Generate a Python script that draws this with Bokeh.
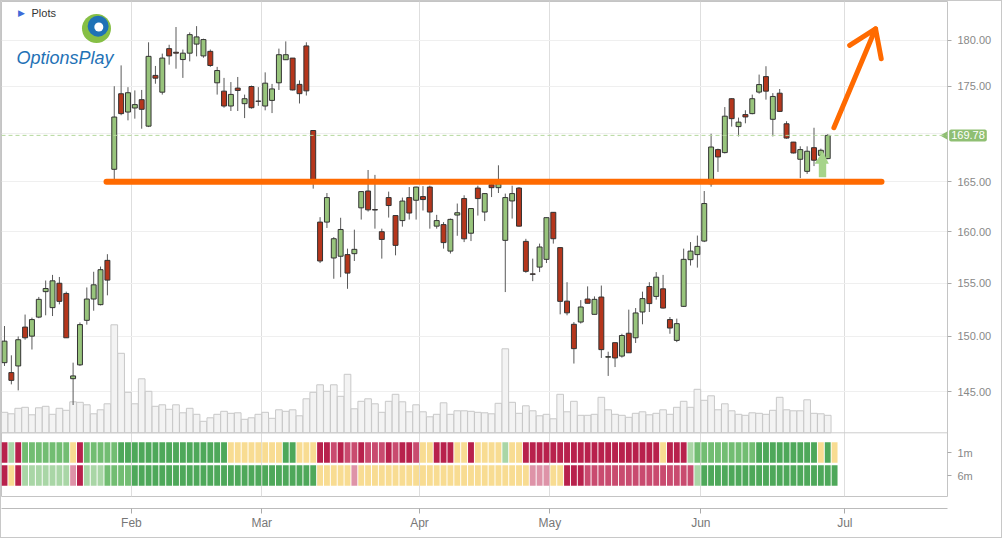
import math
import pandas as pd
from bokeh.plotting import figure
from bokeh.models import (Range1d, LinearScale, FixedTicker, PrintfTickFormatter,
                          Span, Label, ColumnDataSource)
from bokeh.embed import file_html
from bokeh.resources import INLINE

# ---------------- data ----------------
opens = [147.6, 146.7, 147.3, 150.87, 150.03, 151.8, 154.2, 152.69, 155.0, 154.03,
         146.15, 147.4, 151.5, 153.5, 152.97, 157.2, 166.27, 174.19, 172.24, 172.67,
         173.56, 170.75, 176.17, 174.36, 179.1, 178.7, 177.9, 178.6, 179.6, 178.3,
         178.8, 175.37, 174.47, 172.88, 174.8, 173.13, 174.97, 173.4, 172.88, 173.48,
         175.37, 177.88, 178.06, 175.2, 179.4, 170.29, 160.95, 160.95, 157.43, 157.6,
         157.76, 157.85, 162.37, 164.06, 162.2, 160.0, 163.4, 161.6, 161.1, 163.4,
         163.13, 163.5, 164.46, 160.55, 160.7, 158.1, 161.65, 163.3, 159.85, 164.36,
         161.95, 164.7, 164.4, 159.15, 163.06, 164.36, 159.05, 155.9, 156.55, 157.3,
         161.92, 158.44, 153.3, 151.13, 151.34, 153.5, 152.06, 153.69, 148.1, 149.43,
         148.2, 150.3, 149.88, 152.28, 154.69, 153.75, 154.47, 151.57, 149.64, 152.81,
         157.27, 157.76, 159.08, 164.8, 168.3, 167.99, 173.66, 170.7, 171.97, 172.07,
         174.37, 176.04, 171.47, 174.25, 171.0, 169.08, 167.3, 166.06, 168.5, 167.71,
         167.37]
highs = [150.97, 148.27, 150.0, 152.04, 151.75, 153.7, 155.26, 155.8, 155.6, 154.2,
         147.6, 151.3, 154.6, 156.1, 156.6, 157.8, 175.0, 177.26, 174.9, 174.55,
         174.6, 179.8, 177.2, 178.55, 179.53, 181.5, 179.0, 180.9, 181.6, 180.2,
         179.0, 177.1, 175.9, 175.45, 176.0, 174.1, 175.07, 174.9, 176.5, 175.25,
         179.1, 179.9, 178.06, 175.63, 179.8, 170.3, 161.44, 163.86, 159.47, 161.38,
         158.34, 160.2, 164.0, 166.2, 165.7, 160.3, 164.0, 161.6, 163.4, 164.46,
         164.5, 164.56, 164.6, 161.67, 160.95, 161.3, 162.8, 163.63, 162.3, 164.6,
         163.86, 165.2, 166.68, 163.8, 164.6, 164.46, 159.3, 157.37, 158.83, 161.4,
         161.95, 158.44, 155.1, 151.34, 153.4, 154.7, 153.75, 154.78, 148.6, 149.43,
         150.25, 152.5, 152.65, 154.2, 155.1, 156.07, 155.8, 151.81, 151.66, 158.34,
         158.98, 159.62, 164.06, 169.95, 168.4, 172.77, 173.7, 171.65, 172.43, 174.1,
         176.26, 177.17, 174.26, 174.7, 171.27, 169.1, 168.64, 168.64, 170.58, 168.4,
         169.9]
lows = [147.3, 145.64, 145.1, 149.7, 148.8, 151.7, 151.97, 151.9, 153.0, 149.88,
        143.8, 147.3, 151.1, 152.4, 152.9, 153.85, 164.96, 171.9, 171.36, 171.54,
        170.48, 170.65, 175.27, 174.1, 177.34, 176.9, 175.9, 177.7, 178.25, 178.1,
        177.1, 174.1, 172.7, 172.35, 172.35, 171.6, 172.6, 172.9, 172.42, 172.13,
        174.6, 177.88, 174.55, 173.15, 174.0, 164.3, 156.94, 160.37, 155.43, 155.58,
        154.47, 157.14, 161.2, 162.0, 160.3, 157.37, 161.4, 157.69, 160.5, 161.2,
        161.2, 162.1, 160.3, 160.3, 158.34, 157.86, 159.6, 158.98, 159.08, 161.6,
        161.05, 163.45, 163.86, 154.16, 161.3, 160.5, 156.0, 155.2, 156.07, 156.94,
        158.83, 152.06, 151.97, 147.52, 151.2, 153.1, 152.06, 148.03, 146.4, 147.2,
        148.06, 148.5, 149.4, 151.13, 152.28, 153.44, 152.6, 150.25, 149.48, 152.75,
        156.7, 156.5, 158.98, 164.5, 166.0, 167.9, 170.7, 169.67, 171.05, 172.0,
        174.2, 173.56, 169.67, 172.24, 169.43, 167.9, 165.37, 165.8, 166.6, 167.3,
        167.3]
closes = [149.57, 146.0, 149.7, 149.88, 151.57, 153.47, 154.5, 155.23, 153.28, 149.88,
          146.4, 151.1, 153.5, 154.85, 156.3, 155.3, 171.71, 172.07, 174.3, 173.03,
          172.53, 178.25, 175.87, 178.06, 178.3, 178.6, 178.6, 180.65, 180.4, 180.1,
          177.25, 176.7, 172.88, 174.12, 174.55, 173.66, 172.7, 173.38, 175.33, 174.71,
          178.43, 178.43, 174.6, 174.2, 174.5, 165.03, 157.14, 163.4, 159.31, 160.22,
          155.97, 158.27, 164.0, 162.17, 162.15, 159.24, 162.6, 158.66, 163.05, 161.85,
          164.46, 163.2, 161.95, 161.1, 158.93, 161.22, 161.88, 159.3, 162.3, 163.3,
          163.8, 164.4, 164.8, 163.4, 163.8, 160.55, 156.14, 155.85, 158.5, 161.39,
          159.31, 153.28, 152.2, 148.88, 152.75, 153.1, 153.47, 148.79, 148.15, 148.03,
          150.09, 148.5, 152.19, 153.54, 153.07, 155.58, 152.65, 150.78, 151.19, 157.3,
          158.1, 158.56, 162.8, 168.57, 167.54, 171.8, 171.54, 171.17, 171.72, 173.66,
          175.18, 174.47, 173.9, 172.31, 169.5, 167.95, 168.3, 168.13, 167.2, 168.23,
          169.78]
volume_m = [4.1, 3.8, 4.9, 5.1, 3.6, 5.0, 5.3, 3.7, 4.9, 4.5,
            6.2, 6.1, 5.6, 3.8, 4.6, 5.8, 21.6, 15.9, 8.1, 5.8,
            10.8, 8.3, 5.3, 5.6, 4.7, 5.6, 4.0, 4.9, 3.7, 2.3,
            3.0, 3.7, 4.3, 3.9, 4.0, 2.7, 3.0, 3.7, 4.1, 2.9,
            4.6, 4.3, 4.6, 3.4, 6.8, 8.1, 9.6, 8.3, 9.6, 7.3,
            11.7, 4.8, 6.3, 6.8, 5.8, 4.1, 6.3, 7.7, 6.2, 4.2,
            5.6, 4.2, 3.2, 3.7, 6.0, 3.7, 4.4, 4.4, 4.3, 4.1,
            4.0, 3.8, 5.9, 16.8, 6.1, 3.9, 5.4, 4.4, 3.4, 3.7,
            2.8, 7.7, 4.2, 6.3, 3.5, 3.5, 3.7, 7.1, 4.6, 3.7,
            3.5, 3.1, 3.9, 4.2, 3.6, 3.9, 4.6, 3.7, 5.1, 6.3,
            5.1, 8.7, 6.5, 7.4, 4.6, 5.8, 4.4, 3.7, 3.5, 4.0,
            3.9, 3.7, 4.5, 7.1, 4.6, 4.4, 4.4, 6.6, 3.9, 3.8,
            3.5]
# signal rows: G dark green, g green, L light green, Y neutral, P light red, M red, D dark red
signal_1m = ("D" "L" "D" "ggggggg" "Y" "D" "ggggg" "GGGGGGGGGGGGGGGG" "YYYYYYYY" "GG" "YYY"
             "DDMDMMDMMMDMDDM" "YY" "DDD" "YY" "D" "YYYY" "L" "YY" "DDDDDDDDDDDDDDDDDDDD"
             "Y" "DDD" "L" "ggggggggg" "GGGGGGGGG" "Y" "G" "Y")
signal_6m = ("D" "Y" "D" "LLLLLLL" "P" "D" "LLL" "gggg" "GGGGGGGGGGGGGGGGGGGGGGGGGGG"
             "YYYYY" "P" "YYYYYYYYYYYYYYYYYYYYYYYYY" "PPP" "YY" "DDD" "MMMMMMMMMMMMMMMM"
             "L" "GGGGGGGGGGGGGGGGGGGG")
signal_names = ["1m", "6m"]
month_names = ["Feb", "Mar", "Apr", "May", "Jun", "Jul"]
price_ticks = [145, 150, 155, 160, 165, 175, 180]
grid_ticks = [145, 150, 155, 160, 165, 170, 175, 180]
last_price = 169.78
support_level = 165.0

# ---------------- calendar / positions ----------------
holidays = pd.to_datetime(["2023-01-16", "2023-02-20", "2023-04-07", "2023-05-29",
                           "2023-06-19", "2023-07-04"])
cal = pd.bdate_range("2023-01-04", "2023-07-31")
cal = cal[~cal.isin(holidays)]
n = len(closes)
idx = list(range(n))
month_ticks = []
for m in range(2, 8):
    first = next(k for k, d in enumerate(cal) if d.month == m)
    month_ticks.append(first - 0.5)

FONT = "Liberation Sans"
GREEN_BODY = "#98c47c"
RED_BODY = "#b5361c"
TAG_GREEN = "#8fbf73"
code_colors = {"G": "#4ea85a", "g": "#72bd72", "L": "#a9d6a6", "Y": "#f8dc92",
               "P": "#de93a8", "M": "#c94b6f", "D": "#b8214c"}

FRAME_H = 495
price_range = Range1d(135.92, 184.376)
vol_range = Range1d(-12.74, 86.26)
hm_range = Range1d(-0.913, 20.609)

p = figure(frame_width=946, frame_height=FRAME_H,
           x_range=Range1d(-0.437, 137.46), y_range=price_range,
           y_axis_type="log", y_axis_location="right",
           output_backend="svg", toolbar_location=None,
           min_border_left=0, min_border_top=0, min_border_right=54,
           min_border_bottom=536 - FRAME_H,
           styles={"border": "1px solid #c8c8c8"})
p.extra_y_ranges = {"vol": vol_range, "hm": hm_range}
p.extra_y_scales = {"vol": LinearScale(), "hm": LinearScale()}
p.outline_line_color = "#c4c4c4"
p.background_fill_color = "white"
p.border_fill_color = "white"


def hm_to_price(v):
    """position of a signal row expressed on the (log) price axis"""
    f = (v - hm_range.start) / (hm_range.end - hm_range.start)
    a, b = math.log(price_range.start), math.log(price_range.end)
    return math.exp(a + f * (b - a))


row_vals = [1, 0]
row_ticks = [hm_to_price(v) for v in row_vals]

# axes
ya = p.yaxis[0]
ya.ticker = FixedTicker(ticks=price_ticks + row_ticks)
ya.formatter = PrintfTickFormatter(format="%.2f")
ya.major_label_overrides = {t: nm for t, nm in zip(row_ticks, signal_names)}
ya.axis_line_color = None
ya.major_tick_line_color = "#aaaaaa"
ya.major_tick_out = 4
ya.major_tick_in = 0
ya.minor_tick_line_color = None
ya.major_label_text_color = "#888888"
ya.major_label_text_font_size = "11px"
ya.major_label_text_font = FONT
ya.major_label_standoff = 6

xa = p.xaxis[0]
xa.ticker = FixedTicker(ticks=month_ticks)
xa.major_label_overrides = {t: nm for t, nm in zip(month_ticks, month_names)}
xa.axis_line_color = "#bbbbbb"
xa.major_tick_line_color = "#aaaaaa"
xa.major_tick_out = 5
xa.major_tick_in = 0
xa.minor_tick_line_color = None
xa.major_label_text_color = "#777777"
xa.major_label_text_font_size = "12px"
xa.major_label_text_font = FONT
xa.major_label_standoff = 2

p.xgrid.ticker = FixedTicker(ticks=month_ticks)
p.xgrid.grid_line_color = "#dedede"
p.ygrid.ticker = FixedTicker(ticks=grid_ticks)
p.ygrid.grid_line_color = "#efefef"

# volume
vsrc = ColumnDataSource(dict(i=idx, v=volume_m))
p.vbar(x="i", top="v", bottom=0, width=0.97, source=vsrc, y_range_name="vol",
       fill_color="#f3f3f3", line_color="#c8c8c8", line_width=1)
p.add_layout(Span(location=0, dimension="width", y_range_name="vol",
                  line_color="#cccccc", line_width=1))

# signal rows
for row_val, sig in zip(row_vals, (signal_1m, signal_6m)):
    codes = list(sig)
    src = ColumnDataSource(dict(i=list(range(len(codes))), y=[row_val] * len(codes),
                                c=[code_colors[c] for c in codes]))
    p.rect(x="i", y="y", width=0.86, height=0.9, source=src, y_range_name="hm",
           fill_color="c", line_color=None)

# candles
up = [c >= o for o, c in zip(opens, closes)]
csrc = ColumnDataSource(dict(
    i=idx, lo=lows, hi=highs,
    top=[max(o, c) for o, c in zip(opens, closes)],
    bot=[min(o, c) for o, c in zip(opens, closes)],
    col=[GREEN_BODY if u else RED_BODY for u in up]))
p.segment(x0="i", y0="lo", x1="i", y1="hi", source=csrc, line_color="#5a5a5a", line_width=1)
p.vbar(x="i", top="top", bottom="bot", width=0.72, source=csrc,
       fill_color="col", line_color="#333333", line_width=1)

# last price line, pointer and tag (tag lives in a side panel so it is not clipped)
p.add_layout(Span(location=last_price, dimension="width", line_color="#b4d89c",
                  line_dash="4 3", line_width=1))
p.scatter(x=[137.15], y=[last_price], marker="triangle", angle=math.pi / 2, size=9,
          fill_color=TAG_GREEN, line_color=None)
tag = Label(x=137.7, y=last_price, text="%.2f" % last_price, text_align="left",
            text_baseline="middle", text_color="white", text_font_size="11px",
            text_font=FONT, background_fill_color=TAG_GREEN, padding=2, border_radius=2)
p.below = [tag] + list(p.below)

# drawn annotations: support line and arrows
support_x = (14.87, 127.84)
p.segment(x0=[support_x[0]], y0=[support_level], x1=[support_x[1]], y1=[support_level],
          line_color="#ff6a00", line_width=6, line_cap="round")
trend_shaft = ([120.9, 126.97], [170.58, 181.30])
trend_head = ([123.2, 126.97, 127.8], [179.45, 181.30, 177.98])
p.line(trend_shaft[0], trend_shaft[1], line_color="#ff6a00", line_width=5, line_cap="round")
p.line(trend_head[0], trend_head[1], line_color="#ff6a00", line_width=5,
       line_cap="round", line_join="round")
up_arrow_x = [119.28, 120.16, 119.78, 119.78, 118.70, 118.70, 118.08]
up_arrow_y = [168.13, 166.84, 166.84, 165.47, 165.47, 166.84, 166.84]
p.patch(up_arrow_x, up_arrow_y, fill_color="#a6d48a", line_color=None)

# header: "Plots" and logo
p.add_layout(Label(x=2.48, y=183.13, text="\u25b6", text_align="center", text_baseline="middle",
                   text_color="#3e6bd8", text_font_size="9px"))
p.add_layout(Label(x=3.94, y=183.13, text="Plots", text_align="left", text_baseline="middle",
                   text_color="#333333", text_font_size="11px", text_font=FONT))
p.scatter(x=[13.41], y=[181.34], size=29, marker="circle", fill_color="#86bf45", line_color=None)
p.scatter(x=[13.65], y=[181.6], size=21, marker="circle", fill_color="#1f72b6", line_color=None)
p.scatter(x=[13.75], y=[181.5], size=9, marker="circle", fill_color="white", line_color=None)
p.add_layout(Label(x=1.75, y=178.02, text="OptionsPlay", text_align="left",
                   text_baseline="middle", text_color="#1f72b6", text_font_size="18px",
                   text_font=FONT, text_font_style="italic"))

open("out.html", "w").write(file_html(p, INLINE))
